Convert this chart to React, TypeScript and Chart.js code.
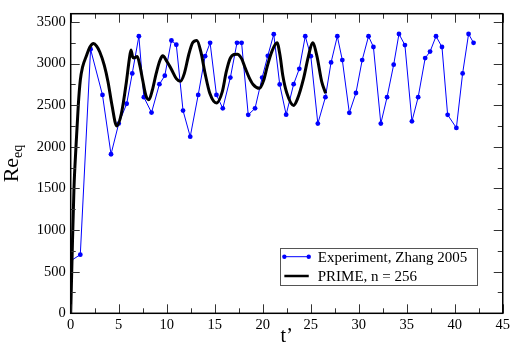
import { useEffect, useRef } from 'react';
import Chart from 'chart.js/auto';

// Experiment (Zhang 2005): time t' and Re_eq
const expT = [
  0, 1.0, 2.07, 3.31, 4.2, 5.0, 5.83, 6.41, 7.1, 7.62,
  8.42, 9.24, 9.8, 10.49, 11.0, 11.7, 12.45, 13.28, 14.0, 14.52,
  15.18, 15.84, 16.63, 17.32, 17.8, 18.49, 19.2, 19.94, 20.53, 21.15,
  21.77, 22.44, 23.22, 23.81, 24.43, 25.01, 25.74, 26.53, 27.12, 27.77,
  28.29, 29.02, 29.71, 30.36, 31.02, 31.53, 32.3, 32.95, 33.64, 34.19,
  34.81, 35.54, 36.19, 36.92, 37.43, 38.05, 38.67, 39.26, 40.17, 40.82,
  41.44, 41.96,
];
const expRe = [
  630, 705, 3173, 2624, 1911, 2280, 2518, 2882, 3329, 2597,
  2412, 2753, 2855, 3278, 3227, 2436, 2122, 2624, 3090, 3250,
  2624, 2463, 2832, 3250, 3250, 2385, 2463, 2832, 3094, 3353,
  2750, 2387, 2753, 2938, 3329, 3090, 2280, 2597, 3015, 3329,
  3043, 2409, 2647, 3043, 3329, 3200, 2280, 2597, 2988, 3356,
  3223, 2307, 2597, 3067, 3145, 3329, 3200, 2385, 2228, 2882,
  3356, 3250,
];

// PRIME, n = 256
const primeT = [
  0, 0.15, 0.34, 0.55, 0.79, 1.0, 1.24, 1.66, 2.0, 2.38,
  2.7, 3.03, 3.5, 3.89, 4.3, 4.79, 5.28, 5.8, 6.1, 6.28,
  6.45, 6.59, 6.93, 7.2, 7.5, 7.8, 8.14, 8.5, 8.9, 9.3,
  9.59, 10.0, 10.5, 11.0, 11.42, 11.83, 12.3, 12.7, 13.14, 13.56,
  14.0, 14.5, 15.18, 15.79, 16.2, 16.6, 17.0, 17.35, 17.8, 18.2,
  18.6, 19.0, 19.66, 20.1, 20.5, 20.97, 21.49, 21.8, 22.1, 22.5,
  23.22, 23.6, 24.25, 24.77, 25.19, 25.64, 26.15, 26.56,
];
const primeRe = [
  0, 700, 1500, 2000, 2500, 2800, 2960, 3100, 3200, 3243,
  3210, 3140, 2980, 2780, 2500, 2252, 2400, 2780, 3050, 3165,
  3080, 3067, 3085, 2980, 2800, 2630, 2565, 2680, 2880, 3040,
  3094, 3030, 2930, 2820, 2788, 2880, 3110, 3250, 3278, 3140,
  2880, 2640, 2526, 2663, 2900, 3060, 3110, 3114, 3060, 2940,
  2830, 2750, 2703, 2800, 2980, 3150, 3250, 3100, 2850, 2650,
  2498, 2570, 2820, 3094, 3250, 3094, 2780, 2644,
];

const xMajor = [0, 5, 10, 15, 20, 25, 30, 35, 40, 45];
const xMinor = [2.5, 7.5, 12.5, 17.5, 22.5, 27.5, 32.5, 37.5, 42.5];
const yMajor = [0, 500, 1000, 1500, 2000, 2500, 3000, 3500];
const yMinor = [250, 750, 1250, 1750, 2250, 2750, 3250];

const labelExp = 'Experiment, Zhang 2005';
const labelPrime = 'PRIME, n = 256';
const xTitle = 't\u2019';
const yTitleMain = 'Re';
const yTitleSub = 'eq';

const SERIF = '"Liberation Serif", "DejaVu Serif", serif';

const decorPlugin = {
  id: 'decor',
  afterDraw(chart: any) {
    const { ctx, chartArea: ca, scales } = chart;
    const xs = scales.x;
    const ys = scales.y;
    ctx.save();
    // inward ticks
    ctx.strokeStyle = '#333';
    ctx.lineWidth = 1;
    const tickX = (vals: number[], len: number) => {
      vals.forEach((v) => {
        const px = Math.round(xs.getPixelForValue(v)) + 0.5;
        ctx.beginPath();
        ctx.moveTo(px, ca.bottom);
        ctx.lineTo(px, ca.bottom - len);
        ctx.moveTo(px, ca.top);
        ctx.lineTo(px, ca.top + len);
        ctx.stroke();
      });
    };
    const tickY = (vals: number[], len: number) => {
      vals.forEach((v) => {
        const py = Math.round(ys.getPixelForValue(v)) + 0.5;
        ctx.beginPath();
        ctx.moveTo(ca.left, py);
        ctx.lineTo(ca.left + len, py);
        ctx.moveTo(ca.right, py);
        ctx.lineTo(ca.right - len, py);
        ctx.stroke();
      });
    };
    tickX(xMajor, 9);
    tickX(xMinor, 5);
    tickY(yMajor, 9);
    tickY(yMinor, 5);
    // frame
    ctx.strokeStyle = '#000';
    ctx.lineWidth = 1.5;
    ctx.strokeRect(ca.left, ca.top, ca.right - ca.left, ca.bottom - ca.top);

    // axis titles
    ctx.fillStyle = '#000';
    ctx.font = `20px ${SERIF}`;
    ctx.textAlign = 'center';
    ctx.textBaseline = 'alphabetic';
    ctx.fillText(xTitle, (ca.left + ca.right) / 2, chart.height - 3);

    ctx.save();
    const cy = (ca.top + ca.bottom) / 2;
    ctx.translate(18, cy);
    ctx.rotate(-Math.PI / 2);
    ctx.textAlign = 'left';
    ctx.font = `22px ${SERIF}`;
    const w1 = ctx.measureText(yTitleMain).width;
    ctx.font = `14px ${SERIF}`;
    const w2 = ctx.measureText(yTitleSub).width;
    const start = -(w1 + w2) / 2;
    ctx.font = `22px ${SERIF}`;
    ctx.fillText(yTitleMain, start, 0);
    ctx.font = `14px ${SERIF}`;
    ctx.fillText(yTitleSub, start + w1, 4);
    ctx.restore();

    // legend box
    const bx = ca.right - 223;
    const by = ca.bottom - 65;
    const bw = 196.6;
    const bh = 36.7;
    ctx.fillStyle = '#fff';
    ctx.fillRect(bx, by, bw, bh);
    ctx.strokeStyle = '#555';
    ctx.lineWidth = 1;
    ctx.strokeRect(Math.round(bx) + 0.5, Math.round(by) + 0.5, Math.round(bw), Math.round(bh));
    const ds = chart.data.datasets;
    const rows = [by + 8.4, by + 27.7];
    ds.forEach((d: any, i: number) => {
      const ry = rows[i];
      const lx0 = bx + 4.6;
      const lx1 = bx + 29;
      ctx.strokeStyle = d.borderColor;
      ctx.lineWidth = i === 0 ? 1 : 2.5;
      ctx.beginPath();
      ctx.moveTo(lx0, ry);
      ctx.lineTo(lx1, ry);
      ctx.stroke();
      if (d.pointRadius > 0) {
        ctx.fillStyle = d.backgroundColor;
        [lx0, lx1].forEach((x) => {
          ctx.beginPath();
          ctx.arc(x, ry, 2.2, 0, Math.PI * 2);
          ctx.fill();
        });
      }
      ctx.fillStyle = '#000';
      ctx.font = `15px ${SERIF}`;
      ctx.textAlign = 'left';
      ctx.textBaseline = 'middle';
      ctx.fillText(d.label, bx + 38, ry + 1);
    });
    ctx.restore();
  },
};

export default function App() {
  const ref = useRef<HTMLCanvasElement>(null);
  useEffect(() => {
    document.body.style.margin = '0';
    const canvas = ref.current!;
    const chart = new Chart(canvas, {
      type: 'line',
      data: {
        datasets: [
          {
            label: labelExp,
            data: expT.map((x, i) => ({ x, y: expRe[i] })),
            borderColor: '#0000ff',
            backgroundColor: '#0000ff',
            borderWidth: 1,
            pointRadius: 2.4,
            pointBorderWidth: 0,
            pointHoverRadius: 2.4,
            tension: 0,
            order: 2,
          },
          {
            label: labelPrime,
            data: primeT.map((x, i) => ({ x, y: primeRe[i] })),
            borderColor: '#000000',
            backgroundColor: '#000000',
            borderWidth: 3,
            pointRadius: 0,
            cubicInterpolationMode: 'monotone',
            order: 1,
          },
        ],
      },
      options: {
        responsive: false,
        devicePixelRatio: 1,
        animation: false,
        events: [],
        layout: { padding: { top: 7, right: 7.3, left: 0, bottom: 0 } },
        plugins: {
          legend: { display: false },
          tooltip: { enabled: false },
        },
        scales: {
          x: {
            type: 'linear',
            min: 0,
            max: 45,
            grid: { display: false, drawTicks: false },
            border: { display: false },
            afterBuildTicks: (s: any) => {
              s.ticks = xMajor.map((v) => ({ value: v }));
            },
            afterFit: (s: any) => {
              s.height = 31.7;
            },
            ticks: {
              color: '#000',
              font: { family: SERIF, size: 14.5 },
              padding: 3,
              maxRotation: 0,
              autoSkip: false,
              callback: (v: any) => String(v),
            },
          },
          y: {
            type: 'linear',
            min: 0,
            max: 3600,
            grid: { display: false, drawTicks: false },
            border: { display: false },
            afterBuildTicks: (s: any) => {
              s.ticks = yMajor.map((v) => ({ value: v }));
            },
            afterFit: (s: any) => {
              s.width = 70.7;
            },
            ticks: {
              color: '#000',
              font: { family: SERIF, size: 14.5 },
              padding: 5,
              autoSkip: false,
              callback: (v: any) => String(v),
            },
          },
        },
      },
      plugins: [decorPlugin],
    } as any);
    return () => chart.destroy();
  }, []);
  return (
    <div style={{ position: 'absolute', left: 0, top: 0, width: 513, height: 345, background: '#fff' }}>
      <canvas ref={ref} width={513} height={345} />
    </div>
  );
}
